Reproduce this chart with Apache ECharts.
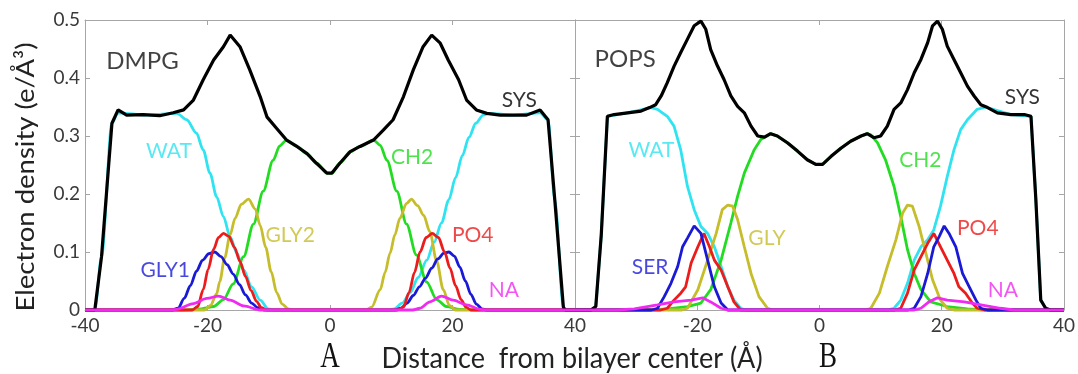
<!DOCTYPE html>
<html>
<head>
<meta charset="utf-8">
<script src="https://cdn.jsdelivr.net/npm/echarts@6.0.0/dist/echarts.min.js"></script>
<style>
html,body{margin:0;padding:0;background:#fff;}
#main{width:1078px;height:374px;}
</style>
</head>
<body>
<div id="main"></div>
<script>
// axis ranges
var xMin = -40, xMax = 40, xStep = 20;
var yMin = 0, yMax = 0.5, yStep = 0.1;

// panel A : DMPG  [distance, density]
var dmpgSys = [[-40,0],[-38.4,0],[-37.3,0.092],[-35.6,0.322],[-34.6,0.345],[-33.2,0.336],[-30.5,0.337],[-27.8,0.335],[-25.6,0.340],[-23.9,0.345],[-22.3,0.362],[-20.7,0.397],[-19.0,0.431],[-17.4,0.454],[-16.3,0.474],[-14.7,0.454],[-13.1,0.414],[-11.4,0.368],[-10.3,0.333],[-8.7,0.313],[-7.1,0.293],[-5.4,0.282],[-3.8,0.270],[-2.2,0.253],[-0.5,0.236],[0.3,0.236],[1.6,0.253],[3.3,0.273],[4.9,0.282],[7.1,0.293],[8.7,0.310],[10.3,0.328],[12.0,0.368],[13.6,0.414],[15.2,0.454],[16.6,0.474],[18.0,0.460],[19.3,0.431],[21.0,0.397],[22.3,0.362],[23.9,0.345],[25.6,0.339],[27.8,0.336],[32.1,0.336],[34.3,0.345],[35.6,0.328],[36.7,0.19],[38.1,0.005],[38.4,0],[40,0]];
var dmpgWat = [[-40,0],[-38.4,0],[-37.3,0.092],[-35.6,0.322],[-34.6,0.340],[-30,0.336],[-25,0.339],[-23.4,0.328],[-21.8,0.305],[-20.7,0.276],[-19.6,0.236],[-18.5,0.195],[-17.4,0.161],[-16.3,0.126],[-15.2,0.098],[-14.1,0.069],[-12.8,0.040],[-11.4,0.017],[-10.1,0.002],[-9,0],[9.5,0],[10.5,0.002],[11.8,0.012],[13.1,0.030],[14.4,0.056],[15.8,0.086],[17,0.117],[18.2,0.150],[19.4,0.190],[20.5,0.228],[21.6,0.266],[22.7,0.298],[23.8,0.322],[25,0.336],[26,0.339],[30,0.336],[34.3,0.340],[35.6,0.328],[36.7,0.19],[38.1,0.005],[38.4,0],[40,0]];
var dmpgCh2 = [[-40,0],[-24,0],[-21,0.002],[-19,0.006],[-17.4,0.018],[-15.8,0.045],[-14.1,0.092],[-12.5,0.148],[-10.9,0.205],[-9.3,0.258],[-8.2,0.283],[-7.1,0.293],[-5.4,0.282],[-3.8,0.270],[-2.2,0.253],[-0.5,0.236],[0.3,0.236],[1.6,0.253],[3.3,0.273],[4.9,0.282],[7.1,0.293],[8.2,0.284],[9.3,0.258],[10.9,0.205],[12.5,0.148],[14.1,0.095],[15.8,0.048],[17.4,0.018],[19,0.006],[21.2,0.001],[24,0],[40,0]];
var dmpgGly2 = [[-40,0],[-20.5,0],[-19.5,0.008],[-18.5,0.028],[-18,0.049],[-17.2,0.090],[-16.3,0.130],[-15.5,0.158],[-14.5,0.182],[-13.3,0.191],[-12.2,0.174],[-11.4,0.146],[-10.5,0.108],[-9.6,0.066],[-8.7,0.030],[-7.8,0.010],[-6.8,0.002],[-6,0],[5.8,0],[6.8,0.005],[8.2,0.035],[9.0,0.065],[9.8,0.098],[10.6,0.130],[11.4,0.158],[12.5,0.184],[13.3,0.191],[14.3,0.180],[15.3,0.163],[16.3,0.135],[17.4,0.085],[18.5,0.035],[19.5,0.008],[20.5,0],[40,0]];
var dmpgPo4 = [[-40,0],[-22.5,0],[-21.6,0.006],[-20.7,0.035],[-19.9,0.070],[-19.0,0.105],[-18.2,0.125],[-17.4,0.132],[-16.5,0.127],[-15.6,0.108],[-14.7,0.084],[-13.8,0.058],[-12.9,0.034],[-12.0,0.015],[-11.2,0.004],[-10.3,0],[11,0],[12,0.005],[12.9,0.030],[13.8,0.065],[14.7,0.100],[15.7,0.125],[16.7,0.132],[17.7,0.125],[18.7,0.100],[19.6,0.072],[20.5,0.042],[21.4,0.018],[22.2,0.005],[23,0],[40,0]];
var dmpgGly1 = [[-40,0],[-25.8,0],[-24.8,0.003],[-23.8,0.020],[-22.8,0.042],[-21.8,0.067],[-20.8,0.086],[-19.8,0.097],[-18.8,0.100],[-17.8,0.092],[-16.8,0.078],[-15.8,0.062],[-14.8,0.044],[-13.8,0.026],[-12.8,0.012],[-11.8,0.004],[-10.8,0],[10.6,0],[11.6,0.003],[12.6,0.012],[13.6,0.025],[14.6,0.040],[15.6,0.055],[16.6,0.072],[17.6,0.088],[18.6,0.098],[19.4,0.100],[20.3,0.093],[21.2,0.074],[22.1,0.050],[23,0.027],[23.9,0.010],[24.8,0.002],[25.6,0],[40,0]];
var dmpgNa = [[-40,0],[-26,0],[-25.1,0.001],[-22.3,0.011],[-20.1,0.020],[-18.2,0.024],[-16.3,0.017],[-14.1,0.007],[-11.4,0],[13.5,0],[14.7,0.003],[16.3,0.014],[18.2,0.024],[20.1,0.017],[22.3,0.009],[24.5,0.001],[25.6,0],[40,0]];

// panel B : POPS
var popsSys = [[-40,0],[-37.4,0],[-36.6,0.006],[-35.7,0.13],[-34.7,0.334],[-33.6,0.337],[-31.4,0.340],[-29.2,0.343],[-27.8,0.349],[-26.8,0.354],[-25.9,0.369],[-24.9,0.392],[-23.8,0.420],[-22.7,0.444],[-21.6,0.467],[-20.5,0.490],[-19.4,0.498],[-18.6,0.484],[-17.8,0.449],[-16.7,0.421],[-15.6,0.397],[-14.5,0.369],[-13.4,0.351],[-12.3,0.340],[-11.2,0.317],[-10.1,0.300],[-9.0,0.298],[-8.0,0.304],[-6.9,0.300],[-5.2,0.288],[-3.6,0.274],[-2.0,0.259],[-0.6,0.251],[0.5,0.251],[1.9,0.265],[3.5,0.279],[5.1,0.291],[6.8,0.300],[7.8,0.304],[8.9,0.297],[10.0,0.300],[11.1,0.317],[12.2,0.346],[13.3,0.357],[14.4,0.380],[15.5,0.409],[16.6,0.432],[17.7,0.461],[18.5,0.490],[19.3,0.498],[20.1,0.484],[20.9,0.455],[22.0,0.432],[23.1,0.409],[24.2,0.386],[25.3,0.369],[26.4,0.354],[27.5,0.349],[29.1,0.340],[31.3,0.337],[33.5,0.337],[34.6,0.334],[35.4,0.19],[36.2,0.017],[37.0,0.003],[37.8,0],[40,0]];
var popsWat = [[-40,0],[-37.4,0],[-36.6,0.006],[-35.7,0.13],[-34.7,0.334],[-31.4,0.340],[-27.6,0.349],[-26.5,0.346],[-24.9,0.334],[-23.8,0.317],[-22.7,0.276],[-21.6,0.213],[-20.5,0.173],[-19.4,0.144],[-18.3,0.132],[-17.2,0.109],[-16.1,0.075],[-15.0,0.040],[-14.0,0.017],[-12.9,0.003],[-12,0],[11,0],[12.2,0.003],[13.3,0.017],[14.4,0.046],[15.5,0.086],[16.6,0.109],[17.7,0.121],[18.7,0.138],[19.8,0.179],[20.9,0.230],[22.0,0.276],[23.1,0.311],[24.2,0.328],[25.8,0.346],[27.2,0.350],[31.3,0.337],[34.6,0.334],[35.4,0.19],[36.2,0.017],[37.0,0.003],[37.8,0],[40,0]];
var popsCh2 = [[-40,0],[-28,0],[-24.9,0.002],[-21.6,0.006],[-19.4,0.012],[-17.8,0.035],[-16.1,0.086],[-14.5,0.150],[-13.4,0.196],[-12.3,0.236],[-10.7,0.276],[-9.6,0.294],[-8.0,0.304],[-6.9,0.300],[-5.2,0.288],[-3.6,0.274],[-2.0,0.259],[-0.6,0.251],[0.5,0.251],[1.9,0.265],[3.5,0.279],[5.1,0.291],[6.8,0.300],[7.8,0.304],[8.4,0.302],[9.5,0.288],[10.8,0.259],[12.2,0.213],[13.3,0.161],[14.4,0.104],[15.5,0.063],[16.6,0.035],[18.2,0.014],[20.9,0.006],[24.2,0.002],[27,0],[40,0]];
var popsGly = [[-40,0],[-22.5,0],[-21.6,0.003],[-19.9,0.035],[-18.3,0.086],[-16.9,0.132],[-15.9,0.173],[-15.0,0.181],[-14.2,0.179],[-13.4,0.156],[-12.3,0.109],[-11.2,0.063],[-9.9,0.023],[-8.5,0.003],[-7.5,0],[7.5,0],[8.4,0.003],[9.8,0.029],[11.1,0.075],[12.5,0.121],[13.6,0.167],[14.4,0.181],[15.2,0.179],[16.3,0.144],[17.4,0.098],[18.5,0.052],[19.8,0.017],[20.9,0.003],[22,0],[40,0]];
var popsPo4 = [[-40,0],[-26,0],[-24.9,0.003],[-23.8,0.017],[-22.7,0.029],[-21.9,0.040],[-21.0,0.081],[-19.9,0.109],[-18.9,0.132],[-18.0,0.109],[-17.2,0.086],[-16.1,0.069],[-15.0,0.040],[-14.0,0.014],[-12.9,0],[12.3,0],[13.3,0.003],[14.4,0.029],[15.5,0.069],[16.6,0.092],[17.7,0.115],[18.7,0.132],[19.8,0.109],[20.9,0.086],[22.0,0.063],[22.8,0.040],[23.9,0.029],[25.0,0.012],[25.8,0.003],[27,0],[40,0]];
var popsSer = [[-40,0],[-27.5,0],[-26.5,0.003],[-25.4,0.023],[-24.3,0.046],[-23.2,0.075],[-22.4,0.109],[-21.6,0.124],[-20.5,0.145],[-19.4,0.132],[-18.3,0.086],[-17.2,0.040],[-16.1,0.012],[-15.0,0],[14.5,0],[15.5,0.003],[16.6,0.023],[17.7,0.063],[18.7,0.109],[19.6,0.127],[20.4,0.145],[21.2,0.132],[22.3,0.109],[23.4,0.063],[24.5,0.040],[25.6,0.017],[26.4,0.003],[27.5,0],[40,0]];
var popsNa = [[-40,0],[-33,0],[-30.3,0.002],[-26.5,0.009],[-23.8,0.014],[-21.0,0.017],[-19.1,0.021],[-17.8,0.014],[-16.1,0.003],[-15,0],[15.5,0],[16.6,0.003],[17.9,0.014],[19.3,0.021],[20.9,0.017],[23.7,0.014],[26.4,0.009],[29.6,0.003],[31.8,0],[40,0]];

// curve labels [text, x, y, group]
var dmpgLabels = [['DMPG',-30.6,0.428,'title'],['WAT',-26.3,0.274,'wat'],['GLY1',-26.9,0.069,'blue'],['GLY2',-6.5,0.129,'yellow'],['CH2',13.4,0.264,'ch2'],['SYS',30.9,0.362,'sys'],['PO4',23.3,0.129,'po4'],['NA',28.4,0.034,'na']];
var popsLabels = [['POPS',-31.8,0.433,'title'],['WAT',-27.5,0.276,'wat'],['SER',-27.7,0.074,'blue'],['GLY',-8.6,0.124,'yellow'],['CH2',16.5,0.259,'ch2'],['SYS',33.2,0.367,'sys'],['PO4',25.9,0.141,'po4'],['NA',30.0,0.034,'na']];

var colors = {
    sys:'#000000', title:'#111111', wat:'#2fe4f0', ch2:'#22dc22',
    yellow:'#c6bd2a', po4:'#ec1c1c', blue:'#1a1ad6', na:'#f02af0'
};
var fontName = 'Lato';
var frameColor = '#a6a6a6';

function lineSeries(idx, data, col, width, smooth) {
    return {
        type:'line', xAxisIndex:idx*2, yAxisIndex:idx*2,
        data:data, symbol:'none', clip:false, silent:true,
        smooth:smooth, smoothMonotone:'x',
        lineStyle:{color:col, width:width}
    };
}

function labelSeries(idx, list) {
    return {
        type:'scatter', xAxisIndex:idx*2, yAxisIndex:idx*2,
        symbolSize:0, silent:true, z:10,
        data:list.map(function(l){
            return {
                value:[l[1], l[2]], name:l[0],
                label:{
                    show:true, position:'inside', formatter:l[0],
                    color:colors[l[3]], fontFamily:fontName,
                    fontSize:l[3]=='title' ? 24 : 21
                }
            };
        })
    };
}

function xAxes(grid, hideMin) {
    var common = {
        type:'value', gridIndex:grid, min:xMin, max:xMax, interval:xStep,
        axisLine:{show:true, onZero:false, lineStyle:{color:frameColor, width:1}},
        axisTick:{show:true, inside:true, length:5, lineStyle:{color:frameColor}},
        splitLine:{show:false}
    };
    var bottom = echarts.util.merge({
        position:'bottom',
        axisLabel:{show:true, color:'#3a3a3a', fontFamily:fontName, fontSize:19, margin:6, showMinLabel:!hideMin}
    }, common);
    var top = echarts.util.merge({position:'top', axisLabel:{show:false}}, common);
    return [bottom, top];
}

function yAxes(grid, showLabels) {
    var common = {
        type:'value', gridIndex:grid, min:yMin, max:yMax, interval:yStep,
        axisLine:{show:true, onZero:false, lineStyle:{color:frameColor, width:1}},
        axisTick:{show:true, inside:true, length:5, lineStyle:{color:frameColor}},
        splitLine:{show:false}
    };
    var left = echarts.util.merge({
        position:'left',
        axisLabel:{show:showLabels, color:'#3a3a3a', fontFamily:fontName, fontSize:19, margin:5}
    }, common);
    var right = echarts.util.merge({position:'right', axisLabel:{show:false}}, common);
    return [left, right];
}

var option = {
    animation:false,
    backgroundColor:'#ffffff',
    grid:[
        {left:85, top:20, width:490, height:290},
        {left:575, top:20, width:490, height:290}
    ],
    xAxis: xAxes(0, false).concat(xAxes(1, true)),
    yAxis: yAxes(0, true).concat(yAxes(1, false)),
    series:[
        lineSeries(0, dmpgWat, colors.wat, 2.8, 0.3),
        lineSeries(0, dmpgCh2, colors.ch2, 2.8, 0.3),
        lineSeries(0, dmpgGly2, colors.yellow, 2.8, 0.3),
        lineSeries(0, dmpgGly1, colors.blue, 2.8, 0.3),
        lineSeries(0, dmpgPo4, colors.po4, 2.8, 0.3),
        lineSeries(0, dmpgSys, colors.sys, 3.2, false),
        lineSeries(0, dmpgNa, colors.na, 2.8, 0.3),
        lineSeries(1, popsWat, colors.wat, 2.8, false),
        lineSeries(1, popsCh2, colors.ch2, 2.8, false),
        lineSeries(1, popsGly, colors.yellow, 2.8, false),
        lineSeries(1, popsPo4, colors.po4, 2.8, false),
        lineSeries(1, popsSer, colors.blue, 2.8, false),
        lineSeries(1, popsSys, colors.sys, 3.2, false),
        lineSeries(1, popsNa, colors.na, 2.8, false),
        labelSeries(0, dmpgLabels),
        labelSeries(1, popsLabels)
    ],
    graphic:[
        // y axis title, stretched along its length like the original
        {type:'text', x:26, y:177, rotation:Math.PI/2, scaleX:1.1,
            style:{text:'Electron density (e/Å³)', fill:'#222', font:'25px Lato',
                align:'center', verticalAlign:'middle'}},
        {type:'text', x:572, y:358, scaleY:1.1,
            style:{text:'Distance  from bilayer center (Å)', fill:'#222', font:'27px Lato',
                align:'center', verticalAlign:'middle'}},
        {type:'text', x:330, y:357, scaleY:1.35,
            style:{text:'A', fill:'#111', font:'27px "Liberation Serif"',
                align:'center', verticalAlign:'middle'}},
        {type:'text', x:828, y:357, scaleY:1.35,
            style:{text:'B', fill:'#111', font:'27px "Liberation Serif"',
                align:'center', verticalAlign:'middle'}}
    ]
};

var myChart = echarts.init(document.getElementById('main'), null, {renderer:'canvas'});
myChart.setOption(option);
</script>
</body>
</html>
